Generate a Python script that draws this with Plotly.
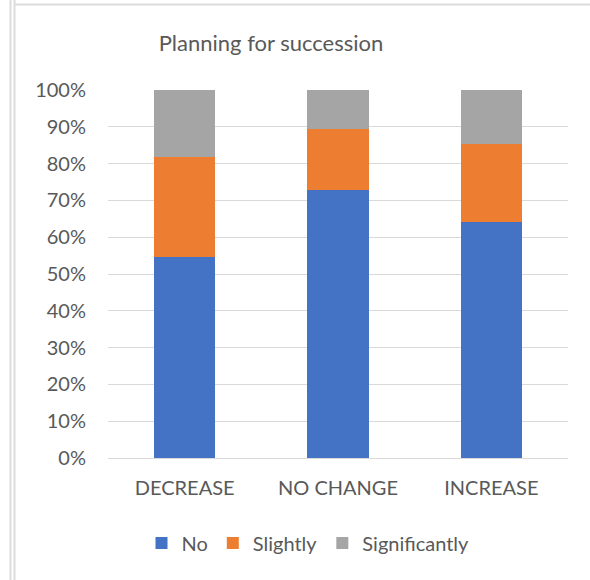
import plotly.graph_objects as go

categories = ["DECREASE", "NO CHANGE", "INCREASE"]
no_vals = [54.5, 72.7, 64.1]
slightly_vals = [27.3, 16.6, 21.1]
significantly_vals = [18.2, 10.7, 14.8]
series_names = ["No", "Slightly", "Significantly"]
colors = ["#4472C4", "#ED7D31", "#A5A5A5"]
y_ticks = list(range(0, 101, 10))
y_tick_labels = [f"{v}%" for v in y_ticks]

W, H = 590, 580
ML, MR, MT, MB = 108, 22, 90, 122
PW, PH = W - ML - MR, H - MT - MB


def px_x(px):
    return (px - ML) / PW


def px_y(py):
    return (H - MB - py) / PH


FONT = "Lato, Calibri, Carlito, sans-serif"
TXT = "#595959"

fig = go.Figure()
for name, vals, col in zip(series_names, [no_vals, slightly_vals, significantly_vals], colors):
    fig.add_trace(go.Bar(
        x=categories, y=vals, name=name,
        marker=dict(color=col, line=dict(width=0)),
    ))

shape_style = dict(type="line", xref="paper", yref="paper", line=dict(color="#dcdcdc", width=2), layer="above")
fig.update_layout(
    width=W, height=H,
    margin=dict(l=ML, r=MR, t=MT, b=MB, pad=0),
    barmode="stack", bargap=0.6,
    paper_bgcolor="white", plot_bgcolor="white",
    font=dict(family=FONT, size=20, color=TXT),
    title=dict(text="Planning for succession", font=dict(size=22, color=TXT, family=FONT),
               xref="paper", x=px_x(271), xanchor="center",
               yref="container", y=1 - 43 / H, yanchor="middle"),
    xaxis=dict(showgrid=False, showline=True, linecolor="#d9d9d9", linewidth=1,
               ticks="", tickfont=dict(size=20, color=TXT), ticklabelstandoff=12),
    yaxis=dict(range=[0, 100], tickmode="array", tickvals=y_ticks, ticktext=y_tick_labels,
               showgrid=True, gridcolor="#d9d9d9", gridwidth=1, zeroline=False, showline=False,
               ticks="", tickfont=dict(size=20, color=TXT), ticklabelstandoff=21),
    legend=dict(orientation="h", x=px_x(308), xanchor="center", y=px_y(543), yanchor="middle",
                font=dict(size=20, color=TXT), itemwidth=30, traceorder="normal"),
    shapes=[
        dict(x0=px_x(10.5), x1=px_x(10.5), y0=px_y(0), y1=px_y(H), **shape_style),
        dict(x0=px_x(14.5), x1=px_x(14.5), y0=px_y(0), y1=px_y(H), **shape_style),
        dict(x0=px_x(15), x1=px_x(W), y0=px_y(4.5), y1=px_y(4.5), **shape_style),
    ],
)
fig.write_html("out.html")
